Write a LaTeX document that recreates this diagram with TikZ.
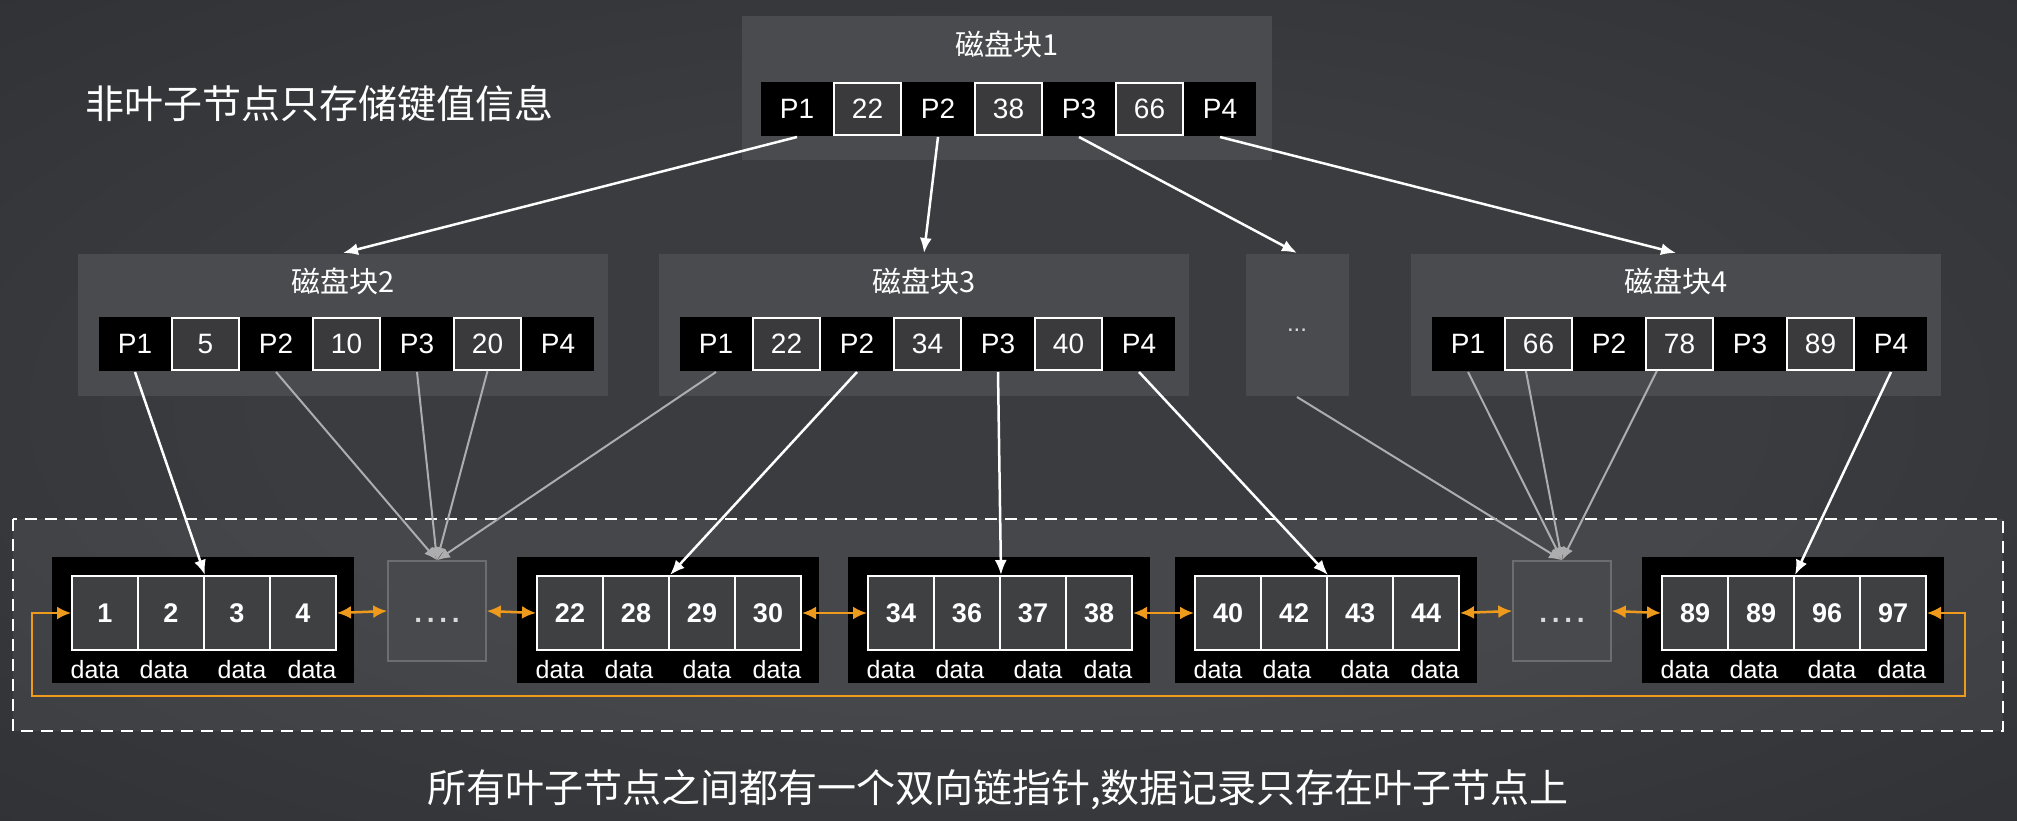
\documentclass[tikz,border=0pt]{standalone}
\usepackage{fontspec}
\setmainfont{Liberation Sans}
\newfontfamily\cjk{Noto Sans CJK SC}
\usepackage{tikz}
\usetikzlibrary{arrows.meta,calc}
\definecolor{bgIn}{HTML}{3B3C40}
\definecolor{bgMid}{HTML}{2C2D31}
\definecolor{bgOut}{HTML}{1C1D20}
\definecolor{blockGray}{HTML}{4A4B4F}
\definecolor{keyGray}{HTML}{3A3A3C}
\definecolor{cellGray}{HTML}{3F4042}
\definecolor{dotsGray}{HTML}{48494C}
\definecolor{edgeGray}{HTML}{6C6D70}
\definecolor{linkOrange}{HTML}{EE9A1C}
\definecolor{ptrGray}{HTML}{ADADB0}
\pgfdeclareradialshading{vignette}{\pgfpoint{0bp}{0bp}}{%
  color(0bp)=(bgIn); color(18bp)=(bgIn); color(45bp)=(bgMid); color(71bp)=(bgOut)}

\tikzset{
  block/.style={fill=blockGray,minimum width=530pt,minimum height=142pt,inner sep=0pt},
  blocktitle/.style={text=white,font=\cjk\fontsize{29}{29}\selectfont,inner sep=0pt},
  heading/.style={text=white,font=\cjk\fontsize{39}{39}\selectfont,inner sep=0pt},
  pcell/.style={fill=black,text=white,minimum width=72pt,minimum height=54pt,inner sep=0pt,
    font=\fontsize{28}{28}\selectfont},
  kcell/.style={fill=keyGray,draw=white,line width=2pt,text=white,minimum width=67pt,
    minimum height=52pt,inner sep=0pt,font=\fontsize{28}{28}\selectfont},
  leafcell/.style={fill=cellGray,draw=white,line width=2pt,text=white,minimum width=66pt,
    minimum height=74pt,inner sep=0pt,font=\bfseries\fontsize{27}{27}\selectfont},
  datalabel/.style={text=white,inner sep=0pt,font=\fontsize{25}{25}\selectfont},
  dotsbox/.style={fill=dotsGray,draw=edgeGray,line width=1.5pt,minimum width=98pt,
    minimum height=100pt,inner sep=0pt},
  dotstext/.style={text=white!85!black,inner sep=0pt,font=\bfseries\fontsize{28}{28}\selectfont},
  ptr/.style={white,line width=2.5pt,-{Latex[length=15pt,width=12pt]}},
  ptrfaint/.style={ptrGray,line width=2pt,-{Latex[length=13pt,width=11pt]}},
  link/.style={linkOrange,line width=2.5pt,{Latex[length=14pt,width=13pt]}-{Latex[length=14pt,width=13pt]}}
}

% one row of pointers and keys inside a disk block
\newcommand{\keyrow}[6]{%
  \node[pcell] (#1p1) at (#2+36,#3) {P1};
  \node[kcell] (#1k1) at (#2+106.5,#3) {#4};
  \node[pcell] (#1p2) at (#2+177,#3) {P2};
  \node[kcell] (#1k2) at (#2+247.5,#3) {#5};
  \node[pcell] (#1p3) at (#2+318,#3) {P3};
  \node[kcell] (#1k3) at (#2+388.5,#3) {#6};
  \node[pcell] (#1p4) at (#2+459,#3) {P4};}

% one leaf with four keys and their data
\newcommand{\leafnode}[6]{%
  \fill[black] (#2-20,557) rectangle (#2+282,683);
  \node[leafcell] (#1c1) at (#2+33,613) {#3};
  \node[leafcell] (#1c2) at (#2+99,613) {#4};
  \node[leafcell] (#1c3) at (#2+165,613) {#5};
  \node[leafcell] (#1c4) at (#2+231,613) {#6};
  \node[datalabel] (#1d1) at (#2+23,670) {data};
  \node[datalabel] (#1d2) at (#2+92,670) {data};
  \node[datalabel] (#1d3) at (#2+170,670) {data};
  \node[datalabel] (#1d4) at (#2+240,670) {data};}

\begin{document}
\begin{tikzpicture}[x=1pt,y=-1pt,line width=2pt]
  \useasboundingbox (0,0) rectangle (2017,821);
  \shade[shading=vignette] (0,0) rectangle (2017,821);

  \node[heading,anchor=west] (toptext) at (84,104) {非叶子节点只存储键值信息};
  \node[heading] (bottomtext) at (998,790) {所有叶子节点之间都有一个双向链指针,数据记录只存在叶子节点上};

  % non-leaf blocks
  \node[block,minimum height=144pt] (blk1) at (1007,88) {};
  \node[blocktitle] (blk1t) at (1007,44) {磁盘块1};
  \keyrow{a}{761}{109}{22}{38}{66}

  \node[block] (blk2) at (343,325) {};
  \node[blocktitle] (blk2t) at (343,281) {磁盘块2};
  \keyrow{b}{99}{344}{5}{10}{20}

  \node[block] (blk3) at (924,325) {};
  \node[blocktitle] (blk3t) at (924,281) {磁盘块3};
  \keyrow{c}{680}{344}{22}{34}{40}

  \node[fill=blockGray,minimum width=103pt,minimum height=142pt,inner sep=0pt] (blkdots) at (1297,325) {};
  \node[dotstext,font=\fontsize{24}{24}\selectfont] (blkdotst) at (1297,330) {...};

  \node[block] (blk4) at (1676,325) {};
  \node[blocktitle] (blk4t) at (1676,281) {磁盘块4};
  \keyrow{d}{1432}{344}{66}{78}{89}

  % leaf level
  \draw[white,line width=2.5pt,dash pattern=on 12pt off 8pt,fill=white,fill opacity=0.06]
    (13,519) rectangle (2003,731);
  \leafnode{la}{72}{1}{2}{3}{4}
  \node[dotsbox] (dots1) at (437,611) {};
  \node[dotstext] (dots1t) at (437,620) {.\,.\,.\,.};
  \leafnode{lb}{537}{22}{28}{29}{30}
  \leafnode{lc}{868}{34}{36}{37}{38}
  \leafnode{ld}{1195}{40}{42}{43}{44}
  \node[dotsbox] (dots2) at (1562,611) {};
  \node[dotstext] (dots2t) at (1562,620) {.\,.\,.\,.};
  \leafnode{le}{1662}{89}{89}{96}{97}

  % root pointers
  \draw[ptr] (ap1.south) -- (blk2.north);
  \draw[ptr] (ap2.south) -- (blk3.north);
  \draw[ptr] (ap3.south) -- (blkdots.north);
  \draw[ptr] (ap4.south) -- (blk4.north);

  % pointers to leaves
  \draw[ptr] (bp1.south) -- (lac2.north east);
  \draw[ptr] (cp2.south) -- (lbc2.north east);
  \draw[ptr] (cp3.south) -- (lcc2.north east);
  \draw[ptr] (cp4.south) -- (ldc2.north east);
  \draw[ptr] (dp4.south) -- (lec2.north east);

  \draw[ptrfaint] (bp2.south) -- (dots1.north);
  \draw[ptrfaint] (bp3.south) -- (dots1.north);
  \draw[ptrfaint] (bk3.south) -- (dots1.north);
  \draw[ptrfaint] (cp1.south) -- (dots1.north);
  \draw[ptrfaint] (blkdots.south) -- (dots2.north);
  \draw[ptrfaint] (dp1.south) -- (dots2.north);
  \draw[ptrfaint] (dk1.-115) -- (dots2.north);
  \draw[ptrfaint] (dk2.-130) -- (dots2.north);

  % links between leaves
  \draw[link] (lac4.east) -- (dots1.west);
  \draw[link] (dots1.east) -- (lbc1.west);
  \draw[link] (lbc4.east) -- (lcc1.west);
  \draw[link] (lcc4.east) -- (ldc1.west);
  \draw[link] (ldc4.east) -- (dots2.west);
  \draw[link] (dots2.east) -- (lec1.west);
  \coordinate (loopL) at (32,696);
  \coordinate (loopR) at (1965,696);
  \draw[link,line width=2pt] (lac1.west) -- (lac1.west -| loopL) -- (loopL) -- (loopR)
    -- (loopR |- lec4.east) -- (lec4.east);
\end{tikzpicture}
\end{document}
